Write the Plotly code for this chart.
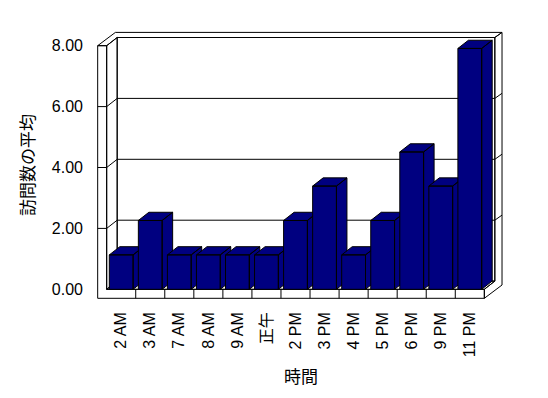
import plotly.graph_objects as go

# ---- data ----
categories = ["2 AM", "3 AM", "7 AM", "8 AM", "9 AM", "正午", "2 PM", "3 PM", "4 PM", "5 PM", "6 PM", "9 PM", "11 PM"]
values = [1.13, 2.26, 1.13, 1.13, 1.13, 1.13, 2.26, 3.39, 1.13, 2.26, 4.51, 3.39, 7.91]
y_ticks = [0, 2, 4, 6, 8]
x_title = "時間"
y_title = "訪問数の平均"

# ---- geometry (pixel scale of the layout, converted to data units) ----
W, H = 548, 398
L, R, T, B = 90, 512, 28, 302
CAT_PX = 29.05          # pixels per category
VAL_PX = 30.45          # pixels per value unit
X0_PX = 121.2           # pixel x of category 0 centre (front plane)
Y0_PX = 289.3           # pixel y of value 0 (front plane)

x_range = [(L - X0_PX) / CAT_PX, (R - X0_PX) / CAT_PX]
y_range = [(Y0_PX - B) / VAL_PX, (Y0_PX - T) / VAL_PX]

DX, DY = 10.5 / CAT_PX, 8.2 / VAL_PX       # depth of plot box (inner)
ODX, ODY = 17.7 / CAT_PX, 13.3 / VAL_PX    # depth incl. back wall thickness
WALL_T = 9.0 / CAT_PX
FLOOR_T = 9.0 / VAL_PX
HALF = 11.9 / CAT_PX

n = len(categories)
xl, xr = -0.5, n - 0.5
xlo = xl - WALL_T
ytop = max(y_ticks)

NAVY = "#000080"
FONT = "Liberation Sans, Arial, Noto Sans CJK JP, sans-serif"

fig = go.Figure()


def polys_to_xy(polys):
    xs, ys = [], []
    for p in polys:
        for (a, b) in p:
            xs.append(a)
            ys.append(b)
        xs.append(p[0][0])
        ys.append(p[0][1])
        xs.append(None)
        ys.append(None)
    return xs[:-1], ys[:-1]


# frame: walls and floor
frame = [
    # back wall inner surface
    [(xl + DX, DY), (xr + DX, DY), (xr + DX, ytop + DY), (xl + DX, ytop + DY)],
    # top faces (left wall + back wall)
    [(xlo, ytop), (xl, ytop), (xl + DX, ytop + DY), (xr + DX, ytop + DY),
     (xr + ODX, ytop + ODY), (xlo + ODX, ytop + ODY)],
    # right side face
    [(xr, -FLOOR_T), (xr, 0), (xr + DX, DY), (xr + DX, ytop + DY),
     (xr + ODX, ytop + ODY), (xr + ODX, -FLOOR_T + ODY)],
    # floor top
    [(xl, 0), (xr, 0), (xr + DX, DY), (xl + DX, DY)],
    # left wall inner side
    [(xl, 0), (xl, ytop), (xl + DX, ytop + DY), (xl + DX, DY)],
    # front face (L-shape)
    [(xlo, -FLOOR_T), (xr, -FLOOR_T), (xr, 0), (xl, 0), (xl, ytop), (xlo, ytop)],
]
fx, fy = polys_to_xy(frame)
fig.add_trace(go.Scatter(x=fx, y=fy, mode="lines", fill="toself", fillcolor="white",
                         line=dict(color="black", width=1), hoverinfo="skip", showlegend=False))

# gridlines and tick marks
gx, gy = [], []
for v in y_ticks:
    if 0 < v < ytop:
        gx += [xlo, xl, xl + DX, xr + DX, None]
        gy += [v, v, v + DY, v + DY, None]
        gx += [xr + DX, xr + ODX, None]
        gy += [v + DY, v + ODY, None]
for i in range(n - 1):
    gx += [i + 0.5, i + 0.5, None]
    gy += [-FLOOR_T, 0, None]
fig.add_trace(go.Scatter(x=gx, y=gy, mode="lines", line=dict(color="black", width=1),
                         hoverinfo="skip", showlegend=False))

# 3-D bars, drawn left to right
for i, v in enumerate(values):
    a, b = i - HALF, i + HALF
    side = [(b, 0), (b + DX, DY), (b + DX, v + DY), (b, v)]
    top = [(a, v), (b, v), (b + DX, v + DY), (a + DX, v + DY)]
    front = [(a, 0), (b, 0), (b, v), (a, v)]
    bx, by = polys_to_xy([side, top, front])
    fig.add_trace(go.Scatter(x=bx, y=by, mode="lines", fill="toself", fillcolor=NAVY,
                             line=dict(color="black", width=1), hoverinfo="skip",
                             showlegend=False, name=categories[i]))

fig.update_layout(
    width=W, height=H,
    margin=dict(l=L, r=W - R, t=T, b=H - B, autoexpand=False),
    paper_bgcolor="white", plot_bgcolor="white",
    font=dict(family=FONT, color="black"),
    hovermode=False,
    showlegend=False,
    xaxis=dict(range=x_range, tickmode="array", tickvals=list(range(n)), ticktext=categories,
               tickangle=-90, showgrid=False, zeroline=False, showline=False,
               ticks="", ticklabelstandoff=6,
               tickfont=dict(size=16, family=FONT, color="black"),
               title=dict(text=x_title, font=dict(size=17, family=FONT, color="black"), standoff=14),
               fixedrange=True, automargin=False),
    yaxis=dict(range=y_range, tickmode="array", tickvals=y_ticks, tickformat=".2f",
               showgrid=False, zeroline=False, showline=False, ticks="", ticklabelstandoff=6,
               tickfont=dict(size=16, family=FONT, color="black"),
               title=dict(text=y_title, font=dict(size=17, family=FONT, color="black"), standoff=12),
               fixedrange=True, automargin=False),
)

fig.write_html("out.html", config={"displayModeBar": False},
               post_script="document.body.style.margin='0';")
